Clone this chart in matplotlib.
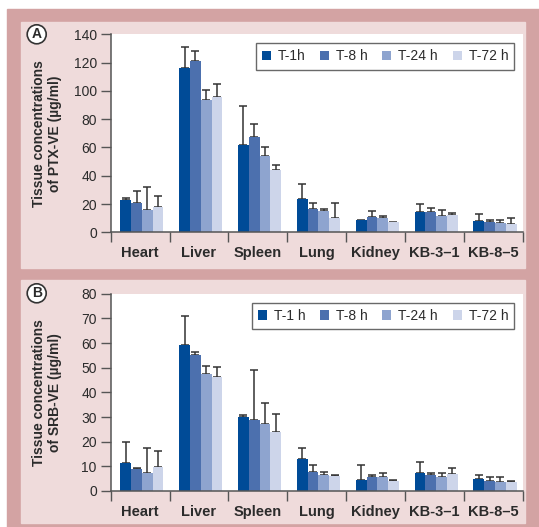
import numpy as np
import matplotlib
matplotlib.use('Agg')
import matplotlib.pyplot as plt
from matplotlib.patches import Rectangle

plt.rcParams['font.family'] = ['Liberation Sans', 'DejaVu Sans']

#categories and series labels
organs = ['Heart', 'Liver', 'Spleen', 'Lung', 'Kidney', 'KB-3\u20131', 'KB-8\u20135']
labels_a = ['T-1h', 'T-8 h', 'T-24 h', 'T-72 h']
labels_b = ['T-1 h', 'T-8 h', 'T-24 h', 'T-72 h']
nan = np.nan

#panel A: PTX-VE (ug/ml), upper error only
ptx_1h = [22.7, 115.9, 61.5, 23.4, 8.7, 14.4, 8.0]
ptx_1h_err = [1.2, 15.4, 27.6, 10.7, nan, 5.5, 5.0]
ptx_8h = [20.6, 120.9, 67.1, 16.3, 10.6, 14.4, 7.3]
ptx_8h_err = [8.5, 7.3, 9.5, 4.7, 4.7, 2.6, 1.4]
ptx_24h = [15.8, 93.7, 53.9, 15.1, 10.1, 11.6, 6.6]
ptx_24h_err = [15.9, 6.8, 6.1, 1.2, 1.2, 4.0, 2.1]
ptx_72h = [17.7, 95.8, 44.2, 9.9, 7.3, 12.3, 5.9]
ptx_72h_err = [8.3, 9.0, 3.1, 10.7, nan, 1.2, 4.0]

#panel B: SRB-VE (ug/ml)
srb_1h = [11.2, 59.0, 30.2, 12.9, 4.5, 7.2, 4.9]
srb_1h_err = [8.8, 12.0, 0.8, 4.6, 6.1, 4.5, 1.4]
srb_8h = [8.9, 55.1, 28.6, 7.8, 5.7, 6.6, 4.1]
srb_8h_err = [0.3, 1.1, 20.3, 2.7, 0.6, 0.5, 1.5]
srb_24h = [7.5, 47.4, 27.0, 6.6, 5.7, 5.7, 3.7]
srb_24h_err = [10.1, 3.1, 8.7, 1.1, 1.5, 1.8, 1.9]
srb_72h = [9.6, 46.1, 24.1, 5.9, 4.2, 7.0, 3.7]
srb_72h_err = [6.8, 4.0, 7.3, 0.4, 0.2, 2.3, 0.5]

colors = ['#004b97', '#4c70ae', '#8ea4cf', '#cdd5ea']
ROSE = '#d3a3a3'
PINK = '#efdbdb'
AXC = '#555555'
TXT = '#2b2b2b'

W, H = 539, 527
fig = plt.figure(figsize=(W / 100, H / 100), dpi=100)
fig.patch.set_facecolor('white')

#background frames
def px_rect(x0, y0, x1, y1, color):
  fig.patches.append(Rectangle((x0 / W, 1 - y1 / H), (x1 - x0) / W, (y1 - y0) / H,
                               transform=fig.transFigure, color=color, zorder=-10))

px_rect(7, 9, W, H, ROSE)
px_rect(20.7, 22.3, 525, 268.3, PINK)
px_rect(20.7, 280, 525, 522.7, PINK)

def draw_panel(ax, series, errors, labels, ylabel, ymax, step):
  x = np.arange(len(organs))
  w = 0.183
  for i, (vals, errs) in enumerate(zip(series, errors)):
    pos = x + (i - 1.5) * w + 0.03
    ax.bar(pos, vals, width=w, color=colors[i], label=labels[i], zorder=2)
    ax.errorbar(pos, vals, yerr=[np.zeros(len(vals)), errs], fmt='none',
                ecolor='#333333', elinewidth=1.1, capsize=3, capthick=1.1, zorder=1)
  ax.set_xlim(-0.5, len(organs) - 0.5)
  ax.set_ylim(0, ymax)
  ax.set_yticks(np.arange(0, ymax + 1, step))
  ax.set_xticks(np.arange(len(organs) + 1) - 0.5)
  ax.set_xticklabels([])
  ax.set_xticks(x, minor=True)
  ax.set_xticklabels(organs, minor=True, fontsize=10.5, fontweight='bold', color=TXT)
  ax.tick_params(axis='x', which='major', direction='out', length=7, width=1, color=AXC)
  ax.tick_params(axis='x', which='minor', length=0, pad=10)
  ax.tick_params(axis='y', direction='out', length=7, width=1, color=AXC,
                 labelsize=10, labelcolor=TXT, pad=3)
  for s in ['top', 'right']:
    ax.spines[s].set_visible(False)
  for s in ['left', 'bottom']:
    ax.spines[s].set_color(AXC)
    ax.spines[s].set_linewidth(1.1)
  ax.set_ylabel(ylabel, fontsize=10, fontweight='bold', color=TXT, linespacing=1.15)
  ax.yaxis.set_label_coords(-0.118, 0.5)
  leg = ax.legend(ncol=4, loc='upper right', bbox_to_anchor=(0.98, 0.955), fontsize=10,
                  frameon=True, fancybox=False, handlelength=0.65, handleheight=0.65,
                  handletextpad=0.5, columnspacing=1.05, borderpad=0.45, borderaxespad=0)
  leg.get_frame().set_edgecolor('#444444')
  leg.get_frame().set_linewidth(1.0)
  for t in leg.get_texts():
    t.set_color(TXT)

ax_a = fig.add_axes([110.7 / W, 1 - 232.3 / H, 412 / W, 198 / H])
draw_panel(ax_a, [ptx_1h, ptx_8h, ptx_24h, ptx_72h],
           [ptx_1h_err, ptx_8h_err, ptx_24h_err, ptx_72h_err],
           labels_a, 'Tissue concentrations\nof PTX-VE (\u00b5g/ml)', 140, 20)

ax_b = fig.add_axes([110.7 / W, 1 - 491 / H, 412 / W, 197.3 / H])
draw_panel(ax_b, [srb_1h, srb_8h, srb_24h, srb_72h],
           [srb_1h_err, srb_8h_err, srb_24h_err, srb_72h_err],
           labels_b, 'Tissue concentrations\nof SRB-VE (\u00b5g/ml)', 80, 10)

#circled panel letters
for letter, yp in [('A', 34.3), ('B', 293.3)]:
  fig.text(36.7 / W, 1 - yp / H, letter, ha='center', va='center', fontsize=10,
           fontweight='bold', color=TXT,
           bbox=dict(boxstyle='circle,pad=0.18', fc='white', ec='#333333', lw=1.2))

fig.savefig('out.png', dpi=100)
